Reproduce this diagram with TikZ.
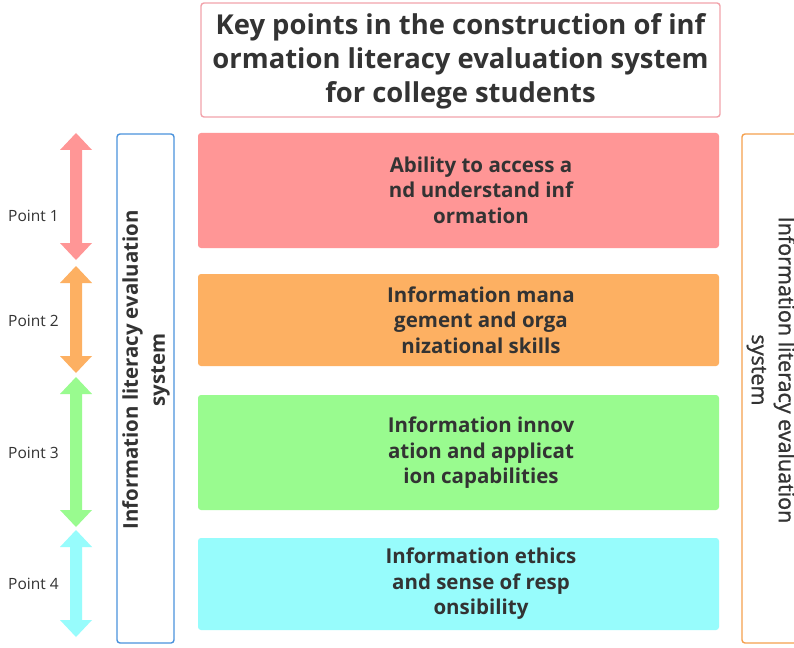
\documentclass[tikz,border=0pt]{standalone}
\usepackage{fontspec}
\setmainfont{Open Sans}
\newfontfamily\mediumfont[FakeBold=1.2]{Open Sans}
\begin{document}
\definecolor{ink}{HTML}{333333}
\definecolor{redfill}{HTML}{FF9696}
\definecolor{orangefill}{HTML}{FDB062}
\definecolor{greenfill}{HTML}{99FB8F}
\definecolor{cyanfill}{HTML}{97FCFC}
\definecolor{titleline}{HTML}{F2A3AB}
\definecolor{blueline}{HTML}{4A92DC}
\definecolor{orangeline}{HTML}{F5A04E}
\begin{tikzpicture}[x=1pt,y=-1pt,
  band/.style={rounded corners=3pt, draw=none},
  bandtext/.style={text=ink, font=\fontsize{20.5}{25.5}\selectfont\bfseries, align=center},
  pointlabel/.style={text=ink, font=\fontsize{15.5}{17}\selectfont, anchor=west, inner sep=0pt},
  sidebox/.style={rounded corners=3pt, line width=1.4pt, fill=white}]
\useasboundingbox (0,0) rectangle (794,647);
\fill[white] (0,0) rectangle (794,647);

% title
\draw[sidebox, draw=titleline] (201,3) rectangle (720,117);
\node[text=ink, font=\fontsize{27.4}{34}\selectfont\bfseries, align=center] (title) at (460.5,61)
  {Key points in the construction of inf\\ormation literacy evaluation system\\for college students};

% side frames
\draw[sidebox, draw=blueline] (117,134) rectangle (174,643);
\node[rotate=90, text=ink, font=\fontsize{20.4}{27}\selectfont\bfseries, align=center] (lefttxt) at (146,370)
  {Information literacy evaluation\\system};
\draw[sidebox, draw=orangeline] (742,134) rectangle (810,643);
\node[rotate=-90, text=ink, font=\mediumfont\fontsize{21.5}{27}\selectfont, align=center] (righttxt) at (771,370)
  {Information literacy evaluation\\system};

% coloured bands
\fill[band, redfill] (198,133) rectangle (719,248);
\node[bandtext] (b1) at (481,190) {Ability to access a\\nd understand inf\\ormation};
\fill[band, orangefill] (198,274) rectangle (719,366);
\node[bandtext] (b2) at (481,320) {Information mana\\gement and orga\\nizational skills};
\fill[band, greenfill] (198,395) rectangle (719,510);
\node[bandtext] (b3) at (481,453) {Information innov\\ation and applicat\\ion capabilities};
\fill[band, cyanfill] (198,538) rectangle (719,630);
\node[bandtext] (b4) at (481,584) {Information ethics\\and sense of resp\\onsibility};

% double-headed range arrows
\foreach \top/\bot/\col in {133/260/redfill, 266/373/orangefill, 377/527/greenfill, 530/637/cyanfill}{
  \fill[\col] (76,\top) -- (92,\top+17) -- (82,\top+17) -- (82,\bot-17) -- (92,\bot-17)
    -- (76,\bot) -- (60,\bot-17) -- (70,\bot-17) -- (70,\top+17) -- (60,\top+17) -- cycle;
}

% range labels
\node[pointlabel] (p1) at (8,216) {Point 1};
\node[pointlabel] (p2) at (8,321) {Point 2};
\node[pointlabel] (p3) at (8,453) {Point 3};
\node[pointlabel] (p4) at (8,584) {Point 4};
\end{tikzpicture}
\end{document}
